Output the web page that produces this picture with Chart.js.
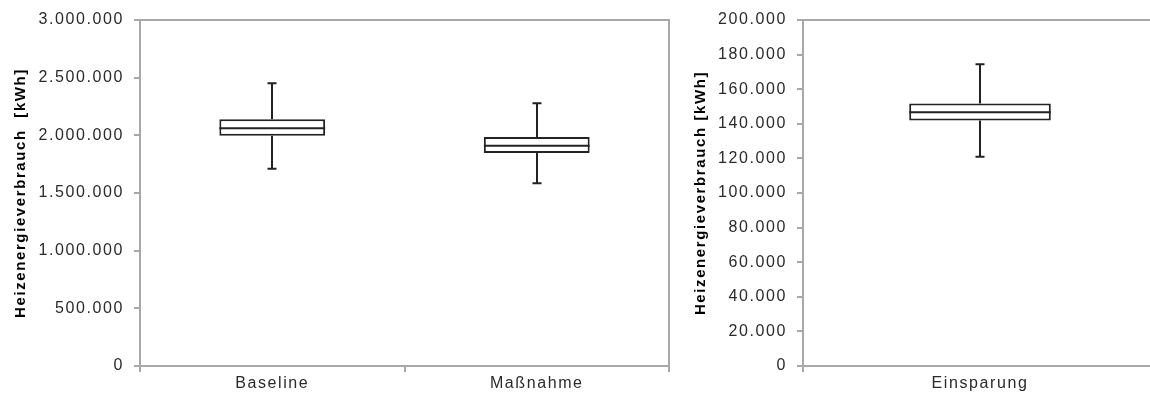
<!DOCTYPE html>
<html>
<head>
<meta charset="utf-8">
<script src="https://cdn.jsdelivr.net/npm/chart.js@4.4.1/dist/chart.umd.min.js"></script>
<style>
    html, body { margin: 0; padding: 0; background: #fff; overflow: hidden; }
    #wrap { position: relative; width: 1150px; height: 399px; overflow: hidden; }
    #leftChart { position: absolute; left: 0; top: 0; }
    #rightChart { position: absolute; left: 680px; top: 0; }
</style>
</head>
<body>
<div id="wrap">
    <canvas id="leftChart" width="690" height="399"></canvas>
    <canvas id="rightChart" width="480" height="399"></canvas>
</div>
<script>
// --- Boxplot data ---
const categoriesLeft = ['Baseline', 'Maßnahme'];
const minLeft    = [1711000, 1584000];
const q1Left     = [1997000, 1847000];
const medianLeft = [2061000, 1910000];
const q3Left     = [2139000, 1986000];
const maxLeft    = [2451000, 2278000];

const categoriesRight = ['Einsparung'];
const minRight    = [121000];
const q1Right     = [141900];
const medianRight = [146700];
const q3Right     = [151700];
const maxRight    = [174400];

// y axis ranges
const yLeftMax = 3000000, yLeftStep = 500000;
const yRightMax = 200000, yRightStep = 20000;

const titleLeft = 'Heizenergieverbrauch  [kWh]';
const titleRight = 'Heizenergieverbrauch [kWh]';

// colours
const axisGray = '#a8a8a8';
const textDark = '#2a2a2a';
const boxLine = '#222222';
const fontFamily = "'Liberation Sans', Arial, sans-serif";

// 1.000.000 style
function fmt(v) {
    return String(Math.round(v)).replace(/\B(?=(\d{3})+(?!\d))/g, '.');
}

// wide letter spacing like the original rendering
const spacingPlugin = {
    id: 'spacing',
    beforeLayout(chart) { chart.ctx.letterSpacing = '1.6px'; },
    beforeDraw(chart) { chart.ctx.letterSpacing = '1.6px'; }
};

// frame on top / right of the plot area
const framePlugin = {
    id: 'frame',
    beforeDatasetsDraw(chart) {
        const { ctx, chartArea: a } = chart;
        ctx.save();
        ctx.strokeStyle = axisGray;
        ctx.lineWidth = 2;
        ctx.beginPath();
        ctx.moveTo(a.left, a.top);
        ctx.lineTo(a.right, a.top);
        ctx.lineTo(a.right, a.bottom);
        ctx.stroke();
        ctx.restore();
    }
};

// whiskers + median from the dataset's extra arrays
const whiskerPlugin = {
    id: 'whiskers',
    afterDatasetsDraw(chart) {
        const { ctx } = chart;
        const y = chart.scales.y;
        const ds = chart.data.datasets[0];
        const meta = chart.getDatasetMeta(0);
        ctx.save();
        ctx.strokeStyle = boxLine;
        ctx.lineWidth = 2;
        meta.data.forEach((bar, i) => {
            const x = Math.round(bar.x);
            const half = bar.width / 2;
            const yMin = y.getPixelForValue(ds.whiskerMin[i]);
            const yMax = y.getPixelForValue(ds.whiskerMax[i]);
            const yQ1 = y.getPixelForValue(ds.data[i][0]);
            const yQ3 = y.getPixelForValue(ds.data[i][1]);
            const yMed = y.getPixelForValue(ds.median[i]);
            ctx.beginPath();
            // upper whisker
            ctx.moveTo(x, yMax); ctx.lineTo(x, yQ3);
            ctx.moveTo(x - 4.5, yMax); ctx.lineTo(x + 4.5, yMax);
            // lower whisker
            ctx.moveTo(x, yQ1); ctx.lineTo(x, yMin);
            ctx.moveTo(x - 4.5, yMin); ctx.lineTo(x + 4.5, yMin);
            // median
            ctx.moveTo(bar.x - half, yMed); ctx.lineTo(bar.x + half, yMed);
            ctx.stroke();
        });
        ctx.restore();
    }
};

function makeBoxChart(canvasId, labels, q1, q3, med, lo, hi, yMax, yStep, title, yWidth, padRight) {
    const ctx = document.getElementById(canvasId).getContext('2d');
    return new Chart(ctx, {
        type: 'bar',
        data: {
            labels: labels,
            datasets: [{
                data: labels.map((_, i) => [q1[i], q3[i]]),
                median: med,
                whiskerMin: lo,
                whiskerMax: hi,
                backgroundColor: '#ffffff',
                borderColor: boxLine,
                borderWidth: 2,
                borderSkipped: false,
                categoryPercentage: 1,
                barPercentage: 0.4
            }]
        },
        options: {
            responsive: false,
            animation: false,
            devicePixelRatio: 1,
            layout: { padding: { top: 20, right: padRight, left: 0, bottom: 0 } },
            plugins: {
                legend: { display: false },
                tooltip: { enabled: false }
            },
            scales: {
                x: {
                    grid: { display: true, drawOnChartArea: false, offset: true, tickLength: 6, color: axisGray, lineWidth: 2 },
                    border: { color: axisGray, width: 2 },
                    ticks: { color: textDark, font: { family: fontFamily, size: 16 }, padding: 2, maxRotation: 0 },
                    afterFit(scale) { scale.height = 33; }
                },
                y: {
                    min: 0,
                    max: yMax,
                    ticks: {
                        stepSize: yStep,
                        color: textDark,
                        font: { family: fontFamily, size: 16 },
                        padding: 10,
                        callback: (v) => fmt(v)
                    },
                    grid: { display: true, drawOnChartArea: false, tickLength: 6, color: axisGray, lineWidth: 2 },
                    border: { color: axisGray, width: 2 },
                    title: {
                        display: true,
                        text: title,
                        color: '#000',
                        font: { family: fontFamily, size: 15, weight: 'bold' },
                        padding: { top: 12, bottom: 0 }
                    },
                    afterFit(scale) { scale.width = yWidth; }
                }
            }
        },
        plugins: [spacingPlugin, framePlugin, whiskerPlugin]
    });
}

makeBoxChart('leftChart', categoriesLeft, q1Left, q3Left, medianLeft, minLeft, maxLeft,
    yLeftMax, yLeftStep, titleLeft, 140, 21);
makeBoxChart('rightChart', categoriesRight, q1Right, q3Right, medianRight, minRight, maxRight,
    yRightMax, yRightStep, titleRight, 123, 3);
</script>
</body>
</html>
